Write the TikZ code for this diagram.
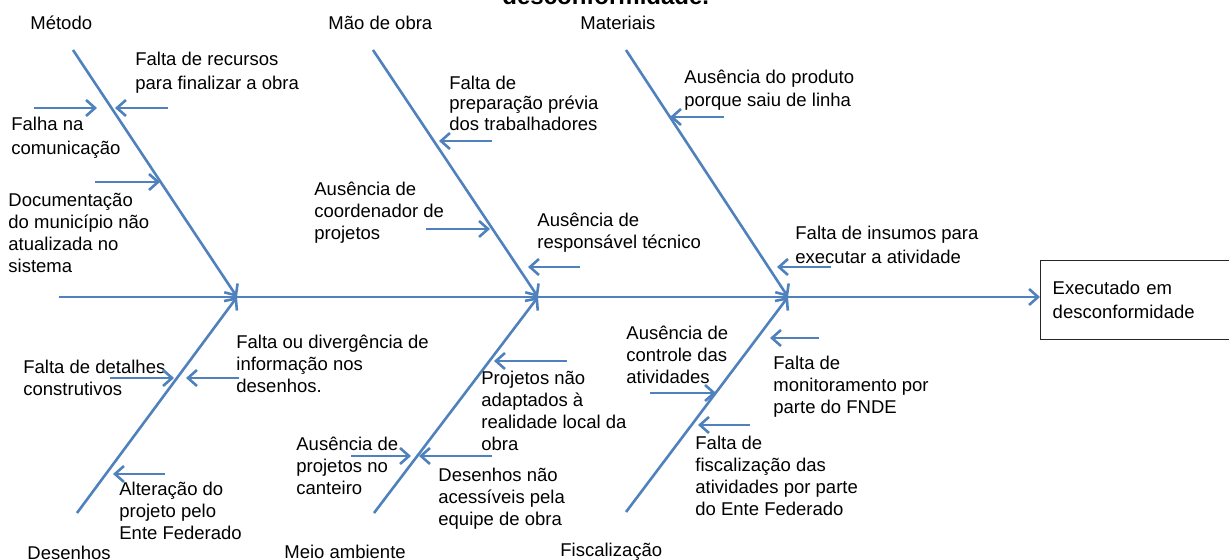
\documentclass[tikz,border=0pt]{standalone}
\usepackage{fontspec}
\setmainfont{Liberation Sans}
\usepackage{xcolor}
\usetikzlibrary{arrows.meta,positioning,calc}
\definecolor{fishblue}{HTML}{4F81BD}
\tikzset{
    bone/.style={
        draw=fishblue,
        line width=1.3pt,
        -{Straight Barb[length=4.5pt,width=8pt]}
    },
    head/.style={
        inner sep=0pt,
        anchor=base west,
        font=\fontsize{9.25}{11}\selectfont
    },
    cause/.style={
        inner sep=0pt,
        anchor=base west,
        align=left,
        font=\fontsize{9.25}{11}\selectfont
    },
    causewide/.style={
        cause,
        font=\fontsize{9.25}{12}\selectfont
    },
    effect/.style={
        draw=black!85,
        line width=0.7pt,
        anchor=north west,
        align=left,
        text width=85.5pt,
        inner xsep=6pt,
        minimum height=39.5pt,
        font=\fontsize{9.25}{12}\selectfont
    },
}
\begin{document}
\begin{tikzpicture}[x=0.5pt,y=-0.5pt]
    \useasboundingbox (0,0) rectangle (1229,560);

    \node[head,font=\bfseries\fontsize{12}{14}\selectfont] (title) at (502,5) {desconformidade.};

    % spine
    \coordinate (tail) at (59,297);
    \node[effect] (effect) at (1040,260) {Executado em\\desconformidade};
    \coordinate (j1) at (237,297);
    \coordinate (j2) at (538,297);
    \coordinate (j3) at (788,297);
    \draw[bone] (tail) -- (effect.west |- tail);

    % categories
    \node[head] (metodo) at (30,29.5) {Método};
    \node[head] (maodeobra) at (328,29.5) {Mão de obra};
    \node[head] (materiais) at (580,29.5) {Materiais};
    \node[head] (desenhos) at (27,559.5) {Desenhos};
    \node[head] (meioamb) at (284,558.5) {Meio ambiente};
    \node[head] (fiscal) at (560,556.5) {Fiscalização};

    \coordinate (b1) at (73,50);
    \coordinate (b2) at (373,50);
    \coordinate (b3) at (626,50);
    \coordinate (b4) at (77,513);
    \coordinate (b5) at (374,513);
    \coordinate (b6) at (626,512);
    \draw[bone] (b1) -- (j1);
    \draw[bone] (b2) -- (j2);
    \draw[bone] (b3) -- (j3);
    \draw[bone] (b4) -- (j1);
    \draw[bone] (b5) -- (j2);
    \draw[bone] (b6) -- (j3);

    % Metodo
    \node[causewide] (recursos) at (135,89.5) {Falta de recursos\\para finalizar a obra};
    \node[causewide] (falha) at (11,154.5) {Falha na\\comunicação};
    \node[cause] (docum) at (8,272.5) {Documentação\\do município não\\atualizada no\\sistema};
    \coordinate (a1s) at (34,108);  \coordinate (a1e) at (97,108);
    \coordinate (a2s) at (168,108); \coordinate (a2e) at (115,108);
    \coordinate (a3s) at (95,182);  \coordinate (a3e) at (160,182);
    \draw[bone] (a1s) -- (a1e);
    \draw[bone] (a2s) -- (a2e);
    \draw[bone] (a3s) -- (a3e);

    % Mao de obra
    \node[cause,font=\fontsize{9.25}{10.25}\selectfont] (preparo) at (449,130.5) {Falta de\\preparação prévia\\dos trabalhadores};
    \node[cause] (coord) at (314,239.5) {Ausência de\\coordenador de\\projetos};
    \node[cause] (resp) at (537,248.5) {Ausência de\\responsável técnico};
    \coordinate (a4s) at (492,141); \coordinate (a4e) at (439,141);
    \coordinate (a5s) at (426,229); \coordinate (a5e) at (490,229);
    \coordinate (a6s) at (580,267); \coordinate (a6e) at (528,267);
    \draw[bone] (a4s) -- (a4e);
    \draw[bone] (a5s) -- (a5e);
    \draw[bone] (a6s) -- (a6e);

    % Materiais
    \node[cause,font=\fontsize{9.25}{11.5}\selectfont] (produto) at (684,106.5) {Ausência do produto\\porque saiu de linha};
    \node[causewide] (insumos) at (795,263.5) {Falta de insumos para\\executar a atividade};
    \coordinate (a7s) at (724,117); \coordinate (a7e) at (670,117);
    \coordinate (a8s) at (831,267); \coordinate (a8e) at (777,267);
    \draw[bone] (a7s) -- (a7e);
    \draw[bone] (a8s) -- (a8e);

    % Desenhos
    \node[cause] (diverg) at (236,392.5) {Falta ou divergência de\\informação nos\\desenhos.};
    \node[cause] (detalhes) at (23,395.5) {Falta de detalhes\\construtivos};
    \node[cause] (alteracao) at (119,539.5) {Alteração do\\projeto pelo\\Ente Federado};
    \coordinate (a9s) at (110,378);  \coordinate (a9e) at (174,378);
    \coordinate (a10s) at (239,378); \coordinate (a10e) at (186,378);
    \coordinate (a11s) at (165,474); \coordinate (a11e) at (113,474);
    \draw[bone] (a9s) -- (a9e);
    \draw[bone] (a10s) -- (a10e);
    \draw[bone] (a11s) -- (a11e);

    % Meio ambiente
    \node[cause] (adaptados) at (481,450.5) {Projetos não\\adaptados à\\realidade local da\\obra};
    \node[cause] (canteiro) at (296,494.5) {Ausência de\\projetos no\\canteiro};
    \node[cause] (acessiveis) at (438,525.5) {Desenhos não\\acessíveis pela\\equipe de obra};
    \coordinate (a12s) at (567,361); \coordinate (a12e) at (494,361);
    \coordinate (a13s) at (351,456); \coordinate (a13e) at (411,456);
    \coordinate (a14s) at (492,456); \coordinate (a14e) at (419,456);
    \draw[bone] (a12s) -- (a12e);
    \draw[bone] (a13s) -- (a13e);
    \draw[bone] (a14s) -- (a14e);

    % Fiscalizacao
    \node[cause] (controle) at (626,383.5) {Ausência de\\controle das\\atividades};
    \node[cause] (monitor) at (773,413.5) {Falta de\\monitoramento por\\parte do FNDE};
    \node[cause] (fiscaliz) at (695,515.5) {Falta de\\fiscalização das\\atividades por parte\\do Ente Federado};
    \coordinate (a15s) at (650,393); \coordinate (a15e) at (716,393);
    \coordinate (a16s) at (819,338); \coordinate (a16e) at (770,338);
    \coordinate (a17s) at (750,425); \coordinate (a17e) at (698,425);
    \draw[bone] (a15s) -- (a15e);
    \draw[bone] (a16s) -- (a16e);
    \draw[bone] (a17s) -- (a17e);

\end{tikzpicture}
\end{document}
